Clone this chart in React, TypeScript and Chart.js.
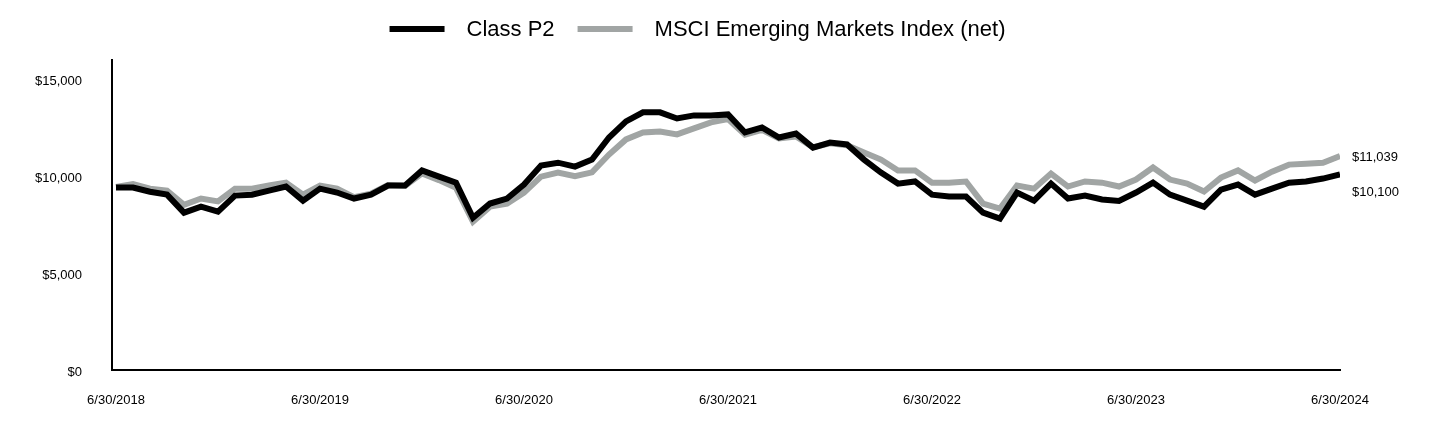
import React, { useEffect, useRef } from "react";
import { Chart, registerables } from "chart.js";

Chart.register(...registerables);

const seriesNames = ["Class P2", "MSCI Emerging Markets Index (net)"];
const xTickLabels = ["6/30/2018", "6/30/2019", "6/30/2020", "6/30/2021", "6/30/2022", "6/30/2023", "6/30/2024"];
const yTickValues = [0, 5000, 10000, 15000];

const classP2 = [
  9420, 9420, 9200, 9050, 8120, 8430, 8170, 9000, 9050, 9260, 9470, 8740,
  9360, 9160, 8850, 9050, 9520, 9520, 10300, 9980, 9670, 7860, 8590, 8850,
  9570, 10550, 10700, 10500, 10860, 12000, 12830, 13300, 13300, 12980, 13140, 13140,
  13190, 12260, 12520, 12000, 12200, 11480, 11740, 11640, 10860, 10190, 9620, 9730,
  9050, 8950, 8950, 8120, 7810, 9160, 8740, 9620, 8850, 9000, 8800, 8720,
  9160, 9670, 9050, 8740, 8430, 9310, 9570, 9050, 9360, 9670, 9730, 9880,
  10100,
];

const msci = [
  9450, 9600, 9360, 9260, 8530, 8850, 8700, 9360, 9360, 9520, 9670, 9050,
  9520, 9360, 8920, 9100, 9550, 9500, 10150, 9800, 9400, 7660, 8430, 8590,
  9160, 9980, 10190, 10000, 10200, 11120, 11900, 12260, 12310, 12160, 12470, 12780,
  12950, 12150, 12400, 11950, 12050, 11500, 11700, 11600, 11230, 10860, 10300, 10300,
  9670, 9670, 9730, 8590, 8330, 9520, 9360, 10140, 9470, 9730, 9670, 9470,
  9830, 10450, 9830, 9620, 9210, 9930, 10300, 9780, 10240, 10600, 10650, 10700,
  11039,
];

const endLabels = ["$11,039", "$10,100"];
const colors = ["#000000", "#a1a5a4"];
const FONT = "'Liberation Sans', Arial, sans-serif";

const fmtMoney = (v: number) => "$" + v.toLocaleString("en-US");

export default function App() {
  const ref = useRef<HTMLCanvasElement | null>(null);

  useEffect(() => {
    document.body.style.margin = "0";
    if (!ref.current) return;

    const legendPlugin = {
      id: "customLegend",
      afterDraw(chart: any) {
        const ctx = chart.ctx;
        ctx.save();
        ctx.font = `22px ${FONT}`;
        ctx.textBaseline = "middle";
        ctx.textAlign = "left";
        const boxW = 55;
        const gapText = 22;
        const gapItem = 23;
        const widths = seriesNames.map((n) => ctx.measureText(n).width);
        const total = widths.reduce((a, w) => a + boxW + gapText + w, 0) + gapItem;
        let x = 697.5 - total / 2;
        const y = 29;
        seriesNames.forEach((n, i) => {
          ctx.fillStyle = colors[i];
          ctx.fillRect(x, y - 3, boxW, 6);
          x += boxW + gapText;
          ctx.fillStyle = "#000";
          ctx.fillText(n, x, y + 1);
          x += widths[i] + gapItem;
        });
        ctx.restore();
      },
    };

    const endLabelPlugin = {
      id: "endLabels",
      afterDatasetsDraw(chart: any) {
        const ctx = chart.ctx;
        const ys = chart.scales.y;
        const last = classP2.length - 1;
        const yGray = ys.getPixelForValue(msci[last]);
        const yBlack = Math.max(ys.getPixelForValue(classP2[last]), yGray + 35);
        ctx.save();
        ctx.font = `13px ${FONT}`;
        ctx.fillStyle = "#000";
        ctx.textBaseline = "middle";
        ctx.textAlign = "left";
        const x = chart.chartArea.right + 12;
        ctx.fillText(endLabels[0], x, yGray + 1);
        ctx.fillText(endLabels[1], x, yBlack + 1);
        ctx.restore();
      },
    };

    const chart = new Chart(ref.current, {
      type: "line",
      data: {
        datasets: [
          {
            label: seriesNames[0],
            data: classP2.map((v, i) => ({ x: i, y: v })),
            borderColor: colors[0],
            backgroundColor: colors[0],
            borderWidth: 6,
            pointRadius: 0,
            tension: 0,
            borderJoinStyle: "miter",
          },
          {
            label: seriesNames[1],
            data: msci.map((v, i) => ({ x: i, y: v })),
            borderColor: colors[1],
            backgroundColor: colors[1],
            borderWidth: 6,
            pointRadius: 0,
            tension: 0,
            borderJoinStyle: "miter",
          },
        ],
      },
      options: {
        animation: false,
        responsive: true,
        maintainAspectRatio: false,
        layout: { padding: { top: 60, right: 100, left: 0, bottom: 0 } },
        plugins: {
          legend: { display: false },
          tooltip: { enabled: false },
        },
        scales: {
          x: {
            type: "linear",
            min: -4 / 17,
            max: classP2.length - 1,
            grid: { display: false, drawTicks: false },
            border: { display: true, color: "#000", width: 2 },
            afterBuildTicks: (s: any) => {
              s.ticks = xTickLabels.map((_, i) => ({ value: i * 12 }));
            },
            afterFit: (s: any) => {
              s.height = 62;
            },
            ticks: {
              autoSkip: false,
              maxRotation: 0,
              padding: 23,
              color: "#000",
              font: { family: FONT, size: 13 },
              callback: (v: any) => xTickLabels[Math.round(Number(v) / 12)] ?? "",
            },
          },
          y: {
            type: "linear",
            min: 0,
            max: 16000,
            grid: { display: false, drawTicks: false },
            border: { display: true, color: "#000", width: 2 },
            afterBuildTicks: (s: any) => {
              s.ticks = yTickValues.map((v) => ({ value: v }));
            },
            afterFit: (s: any) => {
              s.width = 112;
            },
            ticks: {
              padding: 30,
              labelOffset: 2,
              color: "#000",
              font: { family: FONT, size: 13 },
              callback: (v: any) => fmtMoney(Number(v)),
            },
          },
        },
      },
      plugins: [legendPlugin, endLabelPlugin],
    } as any);

    return () => chart.destroy();
  }, []);

  return (
    <div style={{ position: "relative", width: 1440, height: 432 }}>
      <canvas ref={ref} />
    </div>
  );
}
